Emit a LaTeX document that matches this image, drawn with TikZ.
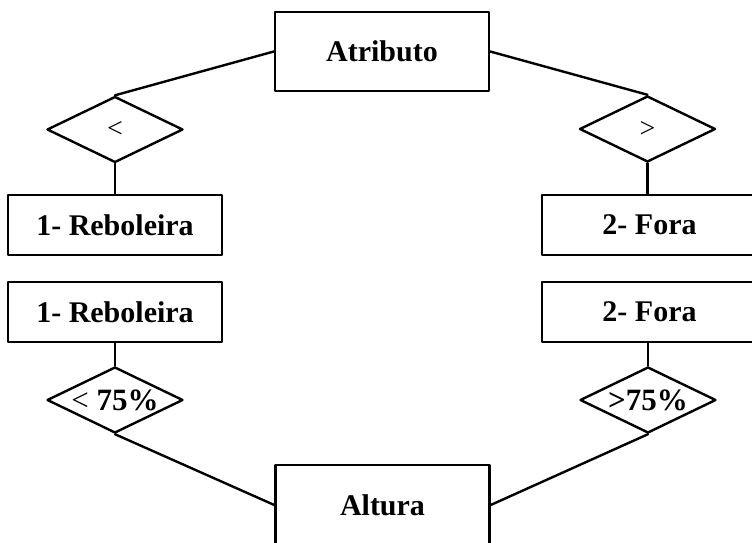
\documentclass[tikz,border=0pt]{standalone}
\usepackage{fontspec}
\setmainfont{Liberation Serif}
\usetikzlibrary{shapes.geometric}
\begin{document}
\begin{tikzpicture}[x=1pt, y=-1pt, line width=2.4pt, line join=round, line cap=round,
		caixa/.style={draw, rectangle, minimum width=214pt, minimum height=60pt, inner sep=0pt, font=\fontsize{30}{36}\selectfont\bfseries},
		losango/.style={draw, diamond, minimum width=136pt, minimum height=66pt, inner sep=0pt},
		sinal/.style={font=\fontsize{28}{32}\selectfont},
		rotulo/.style={font=\fontsize{31}{36}\selectfont\bfseries}]
			\useasboundingbox (0,0) rectangle (752,543);
			\clip (0,0) rectangle (752,543);
			% caixas
			\node[caixa, minimum height=79pt] (atr) at (382,51.5) {Atributo};
			\node[caixa] (reb1) at (115,225) {1- Reboleira};
			\node[caixa] (reb2) at (115,312) {1- Reboleira};
			\node[caixa, minimum width=215pt] (fora1) at (649.5,225) {2- Fora};
			\node[caixa, minimum width=215pt] (fora2) at (649.5,312) {2- Fora};
			\node[caixa, minimum height=80pt] (alt) at (382.5,505) {Altura};
			% losangos
			\node[losango, label={[sinal]center:<}] (menor) at (115,129.5) {};
			\node[losango, label={[sinal]center:>}] (maior) at (647.5,129) {};
			\node[losango, label={[rotulo]center:\textmd{<} 75\%}] (menor75) at (115,400) {};
			\node[losango, label={[rotulo]center:>75\%}] (maior75) at (648,400) {};
			% ligacoes
			\draw (atr.west) -- (menor.north);
			\draw (atr.east) -- (maior.north);
			\draw (menor.south) -- (reb1.north);
			\draw (maior.south) -- (maior.south |- fora1.north);
			\draw (reb2.south) -- (menor75.north);
			\draw (maior75.north |- fora2.south) -- (maior75.north);
			\draw (menor75.south) -- (alt.west);
			\draw (maior75.south) -- (alt.east);
		\end{tikzpicture}
\end{document}
